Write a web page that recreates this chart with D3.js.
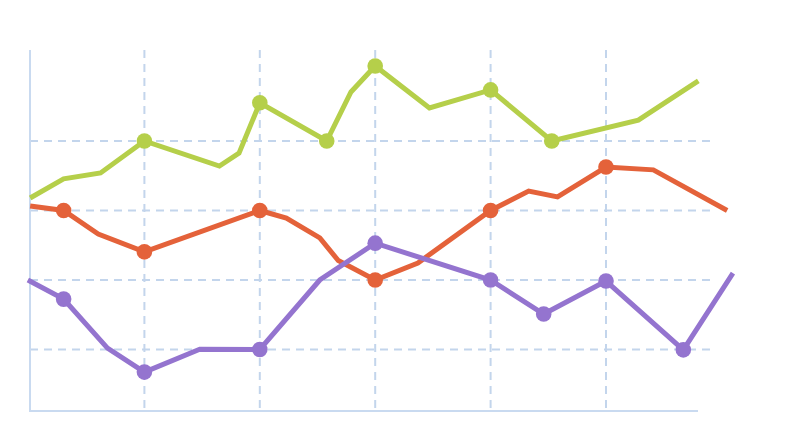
<!DOCTYPE html>
<html>
<head>
<meta charset="utf-8">
<script src="https://cdn.jsdelivr.net/npm/d3@7"></script>
<style>
  html, body { margin: 0; padding: 0; background: #ffffff; }
  svg { display: block; }
</style>
</head>
<body>
<svg id="chart" width="809" height="440"></svg>
<script>
// ---- data ----
const xTicks = [10, 20, 30, 40, 50];
const yTicks = [20, 40, 60, 80];

const greenX = [0.1, 3, 6.2, 10, 16.5, 18.2, 20, 25.8, 27.9, 30, 34.7, 40, 45.3, 52.8, 58];
const greenY = [63.6, 69.1, 70.8, 80, 72.8, 76.5, 91, 80, 94.1, 101.6, 89.5, 94.7, 80, 86, 97.3];
const greenMarkers = [3, 6, 7, 9, 11, 12];

const orangeX = [0.1, 3, 6, 10, 20, 22.3, 25.2, 26.8, 30, 33.7, 40, 43.3, 45.8, 50, 54.1, 60.5];
const orangeY = [61.3, 60, 53.2, 48.1, 60, 57.8, 52.1, 45.6, 40, 44.9, 60, 65.6, 63.9, 72.5, 71.7, 60];
const orangeMarkers = [1, 3, 4, 8, 10, 13];

const purpleX = [-0.1, 3, 6.8, 10, 14.8, 20, 25.2, 30, 40, 44.6, 50, 56.7, 61];
const purpleY = [40, 34.5, 20.4, 13.5, 20.1, 20, 40, 50.6, 40, 30.2, 39.7, 19.9, 42];
const purpleMarkers = [1, 3, 5, 7, 8, 9, 10, 11];

const seriesColors = ["#b5cf4a", "#e4623a", "#9474cf"];

// ---- layout ----
const svg = d3.select("#chart");
const x = d3.scaleLinear().domain([0, 50]).range([29, 606]);
const y = d3.scaleLinear().domain([20, 80]).range([349.5, 141]);
const xAxisStart = 30, xAxisEnd = 698, gridEnd = 712;
const yTop = 50, yBottom = 411;

const gridColor = "#c3d5ec";

// horizontal grid
svg.append("g").selectAll("line").data(yTicks).join("line")
  .attr("x1", xAxisStart).attr("x2", gridEnd)
  .attr("y1", d => y(d)).attr("y2", d => y(d))
  .attr("stroke", gridColor).attr("stroke-width", 2)
  .attr("stroke-dasharray", "8,6");

// vertical grid
svg.append("g").selectAll("line").data(xTicks).join("line")
  .attr("x1", d => x(d)).attr("x2", d => x(d))
  .attr("y1", yTop).attr("y2", yBottom)
  .attr("stroke", gridColor).attr("stroke-width", 2)
  .attr("stroke-dasharray", "8,6");

// axes lines
svg.append("line").attr("x1", xAxisStart).attr("x2", xAxisStart)
  .attr("y1", yTop).attr("y2", yBottom + 1)
  .attr("stroke", "#c9daf0").attr("stroke-width", 2);
svg.append("line").attr("x1", xAxisStart - 1).attr("x2", xAxisEnd)
  .attr("y1", yBottom).attr("y2", yBottom)
  .attr("stroke", "#c9daf0").attr("stroke-width", 2);

const series = [
  { xs: greenX, ys: greenY, markers: greenMarkers },
  { xs: orangeX, ys: orangeY, markers: orangeMarkers },
  { xs: purpleX, ys: purpleY, markers: purpleMarkers }
];

const line = d3.line().x(d => x(d[0])).y(d => y(d[1]));

series.forEach((s, i) => {
  const pts = s.xs.map((v, j) => [v, s.ys[j]]);
  const g = svg.append("g");
  g.append("path").datum(pts)
    .attr("d", line)
    .attr("fill", "none")
    .attr("stroke", seriesColors[i])
    .attr("stroke-width", 5)
    .attr("stroke-linejoin", "miter");
  g.selectAll("circle").data(s.markers.map(k => pts[k])).join("circle")
    .attr("cx", d => x(d[0])).attr("cy", d => y(d[1]))
    .attr("r", 7.8)
    .attr("fill", seriesColors[i]);
});
</script>
</body>
</html>
